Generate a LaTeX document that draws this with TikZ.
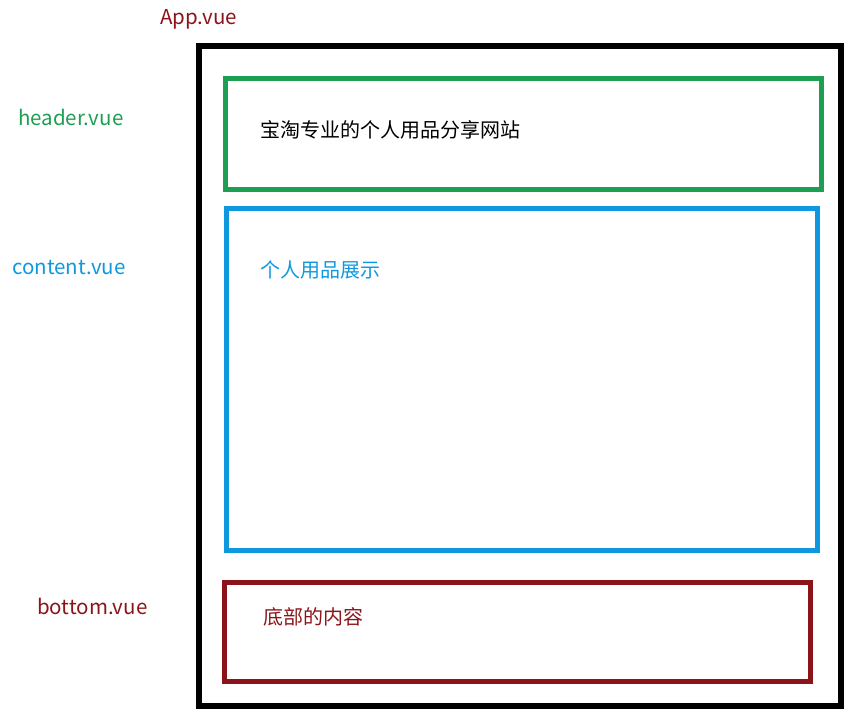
\documentclass[tikz,border=0pt]{standalone}
\usepackage{fontspec}
\setmainfont{Noto Sans CJK SC}
\definecolor{appred}{RGB}{139,20,26}
\definecolor{hgreen}{RGB}{30,158,82}
\definecolor{cblue}{RGB}{16,152,222}
\begin{document}
\begin{tikzpicture}[x=1pt,y=-1pt,
  box/.style={draw,rectangle,inner sep=0pt,outer sep=0pt},
  lbl/.style={anchor=west,inner sep=0pt,font=\fontsize{20.5}{24}\selectfont},
  cjk/.style={anchor=west,inner sep=0pt,font=\fontsize{20}{24}\selectfont}]
\useasboundingbox (0,0) rectangle (849,722);
\node[box,line width=6pt,minimum width=642pt,minimum height=660pt] (app) at (519.5,376) {};
\node[box,draw=hgreen,line width=5pt,minimum width=596pt,minimum height=111pt] (header) at (523,134.5) {};
\node[box,draw=cblue,line width=5pt,minimum width=591pt,minimum height=341pt] (content) at (521.5,379.5) {};
\node[box,draw=appred,line width=5pt,minimum width=586pt,minimum height=98.5pt] (bottom) at (517.5,631.75) {};
\node[lbl,text=appred] (tapp) at (160,19) {App.vue};
\node[lbl,text=hgreen] (theader) at (18,117) {header.vue};
\node[lbl,text=cblue] (tcontent) at (12,267) {content.vue};
\node[lbl,text=appred] (tbottom) at (37,606) {bottom.vue};
\node[cjk,text=black] (h1) at (260,130) {宝淘专业的个人用品分享网站};
\node[cjk,text=cblue] (c1) at (260,270) {个人用品展示};
\node[cjk,text=appred] (b1) at (263,617) {底部的内容};
\end{tikzpicture}
\end{document}
